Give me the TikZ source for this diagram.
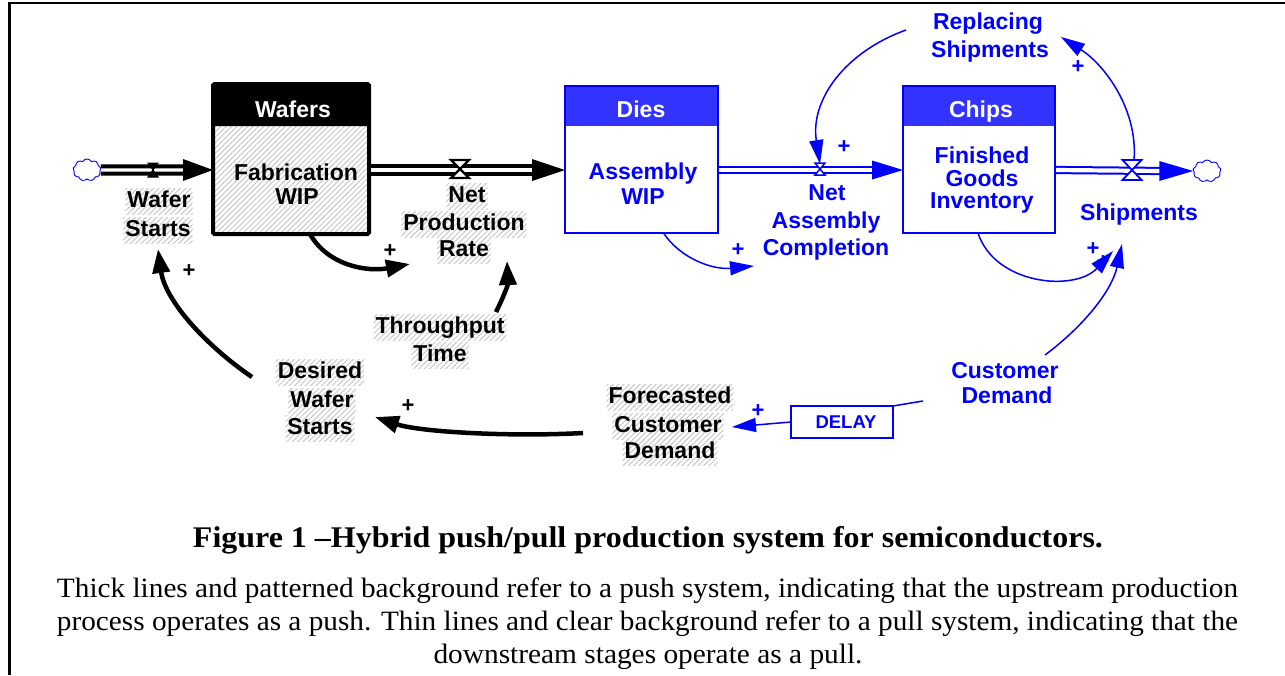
\documentclass[tikz,border=0pt]{standalone}
\usepackage{fontspec}
\usepackage{graphicx}
\setmainfont{Liberation Serif}
\setsansfont{Liberation Sans}
\usetikzlibrary{arrows.meta,patterns.meta,shapes.symbols}
\definecolor{pullblue}{RGB}{0,0,255}
\definecolor{headblue}{RGB}{51,51,255}
\definecolor{hatchgray}{RGB}{200,200,200}
\tikzset{
  hatch/.style={pattern={Lines[angle=45,distance=3.8pt,line width=1pt]}, pattern color=hatchgray},
  lab/.style={font=\sffamily\bfseries\fontsize{23}{23}\selectfont, inner sep=0pt, anchor=base},
  blab/.style={lab, text=pullblue},
  wlab/.style={lab, text=white},
  hlab/.style={lab, hatch, inner xsep=2pt, inner ysep=2.5pt, text height=16.5pt, text depth=5pt},
  sign/.style={font=\sffamily\bfseries\fontsize{22}{22}\selectfont, inner sep=0pt},
  bsign/.style={sign, text=pullblue},
  stockpush/.style={draw=black, line width=4pt, inner sep=0pt, outer sep=0pt, rounded corners=1.5pt, hatch,
     path picture={\fill[black] (path picture bounding box.north west) rectangle ([yshift=-42pt]path picture bounding box.north east);}},
  stockpull/.style={draw=pullblue, line width=1.5pt, inner sep=0pt, outer sep=0pt, fill=white,
     path picture={\fill[headblue] (path picture bounding box.north west) rectangle ([yshift=-40pt]path picture bounding box.north east);}},
  pipepush/.style={draw=black, line width=4pt, double=white, double distance=3.2pt},
  pipepull/.style={draw=pullblue, line width=2pt, double=white, double distance=4.2pt},
  linkpush/.style={draw=black, line width=4.5pt, -{Triangle[length=24pt,width=17pt]}},
  linkpull/.style={draw=pullblue, line width=1.5pt, -{Triangle[length=24pt,width=14pt]}},
  src/.style={cloud, cloud puffs=9, cloud puff arc=120, aspect=1.3, draw=pullblue, line width=0.9pt,
     minimum width=28pt, minimum height=22pt, inner sep=0pt, outer sep=0pt},
  delaybox/.style={draw=pullblue, line width=1.5pt, minimum width=102pt, minimum height=32pt, inner sep=0pt,
     outer sep=0pt, font=\sffamily\bfseries\fontsize{18.5}{18.5}\selectfont, text=pullblue},
  captitle/.style={font=\rmfamily\bfseries\fontsize{30}{30}\selectfont, inner sep=0pt, anchor=base},
  captext/.style={font=\rmfamily\fontsize{28}{28}\selectfont, inner sep=0pt, anchor=base},
}
\begin{document}
\begin{tikzpicture}[x=1pt,y=-1pt]
\useasboundingbox (0,0) rectangle (1285,675);
% frame
\draw[line width=2.7pt] (1285,3) -- (9.5,3) -- (9.5,675);

% stocks
\node[stockpush, minimum width=156pt, minimum height=150pt] (wafers) at (291,159) {};
\node[stockpull, minimum width=153pt, minimum height=147pt] (dies) at (641.5,159.5) {};
\node[stockpull, minimum width=152pt, minimum height=147pt] (chips) at (979,159.5) {};

% source and sink
\node[src] (srcL) at (87,170) {};
\node[src] (sinkR) at (1207,171) {};

\coordinate (py) at (0,170);
\path (wafers.west |- py) coordinate (tipWS)
      (wafers.east |- py) coordinate (outWafers)
      (dies.west |- py) coordinate (tipNPR)
      (dies.east |- py) coordinate (outDies)
      (chips.west |- py) coordinate (tipNAC)
      (chips.east |- py) coordinate (outChips);
\path (sinkR.west) coordinate (tipSH);

% flow pipes
\draw[pipepush] (srcL.east) -- ([xshift=-28pt]tipWS);
\fill (tipWS) -- ++(-30,-11) -- ++(0,22) -- cycle;
\draw[pipepush] ([xshift=2pt]outWafers) -- ([xshift=-31pt]tipNPR);
\fill (tipNPR) -- ++(-33,-11) -- ++(0,22) -- cycle;
\draw[pipepull] ([xshift=1pt]outDies) -- ([xshift=-29pt]tipNAC);
\fill[pullblue] (tipNAC) -- ++(-31,-9.5) -- ++(0,19) -- cycle;
\draw[pipepull] ([xshift=1pt]outChips) -- ([xshift=-32pt]tipSH);
\fill[pullblue] (tipSH) -- ++(-34,-10) -- ++(0,20) -- cycle;

% valves
\coordinate (vWS) at (153,170);
\coordinate (vNPR) at (460,169);
\coordinate (vNAC) at (820,169);
\coordinate (vSH) at (1132,170);
\draw[fill=black, line width=1pt] ([shift={(-5,-7)}]vWS) -- ++(10,0) -- ++(-10,14) -- ++(10,0) -- cycle;
\draw[fill=white, line width=2.4pt] ([shift={(-9,-9)}]vNPR) -- ++(18,0) -- ++(-18,18) -- ++(18,0) -- cycle;
\draw[pullblue, fill=white, line width=1.5pt] ([shift={(-5,-6)}]vNAC) -- ++(10,0) -- ++(-10,12) -- ++(10,0) -- cycle;
\draw[pullblue, fill=white, line width=1.8pt] ([shift={(-9.5,-10)}]vSH) -- ++(19,0) -- ++(-19,20) -- ++(19,0) -- cycle;

% stock titles and contents
\node[wlab] (wafersT) at (293,117) {Wafers};
\node[lab] (fab1) at (296,180) {Fabrication};
\node[lab] (fab2) at (297,204) {WIP};
\node[wlab] (diesT) at (641,117) {Dies};
\node[blab] (awip1) at (643,179) {Assembly};
\node[blab] (awip2) at (643,204) {WIP};
\node[wlab] (chipsT) at (981,117) {Chips};
\node[blab] (fgi1) at (982,163) {Finished};
\node[blab] (fgi2) at (982,186) {Goods};
\node[blab] (fgi3) at (982,208) {Inventory};

% rate names
\node[hlab] (ws1) at (159,207) {Wafer};
\node[hlab] (ws2) at (158,236) {Starts};
\node[hlab] (npr1) at (467,202) {Net};
\node[hlab] (npr2) at (464,230) {Production};
\node[hlab] (npr3) at (464,256) {Rate};
\node[blab] (nac1) at (827,200) {Net};
\node[blab] (nac2) at (826,228) {Assembly};
\node[blab] (nac3) at (826,255) {Completion};
\node[blab] (ship) at (1139,220) {Shipments};

% auxiliaries
\node[blab] (rep1) at (988,29) {Replacing};
\node[blab] (rep2) at (990,57) {Shipments};
\node[hlab] (tt1) at (440,333) {Throughput};
\node[hlab] (tt2) at (440,361) {Time};
\node[hlab] (dws1) at (320,378) {Desired};
\node[hlab] (dws2) at (322,407) {Wafer};
\node[hlab] (dws3) at (320,434) {Starts};
\node[hlab] (fcd1) at (670,403) {Forecasted};
\node[hlab] (fcd2) at (668,432) {Customer};
\node[hlab] (fcd3) at (670,458) {Demand};
\node[blab] (cd1) at (1005,378) {Customer};
\node[blab] (cd2) at (1007,403) {Demand};
\node[delaybox] (delay) at (842,422) {\hspace*{8pt}DELAY};

% link end points
\coordinate (nprInA) at (410,264);
\coordinate (nprInB) at (507,261);
\coordinate (ttOut) at (496,312);
\coordinate (dwsOut) at (252,377);
\coordinate (wsIn) at (158,249);
\coordinate (fcdOut) at (583,433);
\coordinate (dwsIn) at (375,417);
\coordinate (repOut) at (906,30);
\coordinate (repIn) at (1061,37);
\coordinate (nacIn) at (754,266);
\coordinate (shipInA) at (1113,251);
\coordinate (shipInB) at (1122,244);
\coordinate (cdOutA) at (1045,355);
\coordinate (cdOutB) at (923,401);
\coordinate (fcdIn) at (732,427);

% causal links, push side
\draw[linkpush] ([xshift=19pt]wafers.south) .. controls (328,266) and (368,272) .. (nprInA);
\draw[linkpush] (ttOut) .. controls (503,298) and (508,285) .. (nprInB);
\draw[linkpush] (dwsOut) .. controls (205,345) and (165,300) .. (wsIn);
\draw[linkpush] (fcdOut) .. controls (510,437) and (420,432) .. (dwsIn);

% causal links, pull side
\draw[linkpull] (repOut) .. controls (845,52) and (810,100) .. ([yshift=5pt]vNAC);
\draw[linkpull] ([shift={(2,-10)}]vSH) .. controls (1138,110) and (1105,65) .. (repIn);
\draw[linkpull] ([xshift=22pt]dies.south) .. controls (680,258) and (712,270) .. (nacIn);
\draw[linkpull] ([xshift=-1pt]chips.south) .. controls (995,285) and (1075,292) .. (shipInA);
\draw[linkpull] (cdOutA) .. controls (1085,325) and (1112,290) .. (shipInB);
\draw[pullblue, line width=1.5pt] (cdOutB) -- (delay.north east);
\draw[linkpull] (delay.west) -- (fcdIn);

% polarities
\node[sign] (p1) at (390,251) {+};
\node[sign] (p2) at (189,271) {+};
\node[sign] (p3) at (408,406) {+};
\node[bsign] (p4) at (758,411) {+};
\node[bsign] (p5) at (738,250) {+};
\node[bsign] (p6) at (844,147) {+};
\node[bsign] (p7) at (1078,67) {+};
\node[bsign] (p8) at (1093,249) {+};
\node[bsign] (p9) at (1103,262) {+};

% caption
\node[captitle] (title) at (648,547) {\resizebox{910pt}{\height}{Figure 1 --Hybrid push/pull production system for semiconductors.}};
\node[captext] (cap1) at (647.5,597) {\resizebox{1181pt}{\height}{Thick lines and patterned background refer to a push system, indicating that the upstream production}};
\node[captext] (cap2) at (647.5,630) {\resizebox{1181pt}{\height}{process operates as a push. Thin lines and clear background refer to a pull system, indicating that the}};
\node[captext] (cap3) at (648,663) {\resizebox{429pt}{\height}{downstream stages operate as a pull.}};
\end{tikzpicture}
\end{document}
